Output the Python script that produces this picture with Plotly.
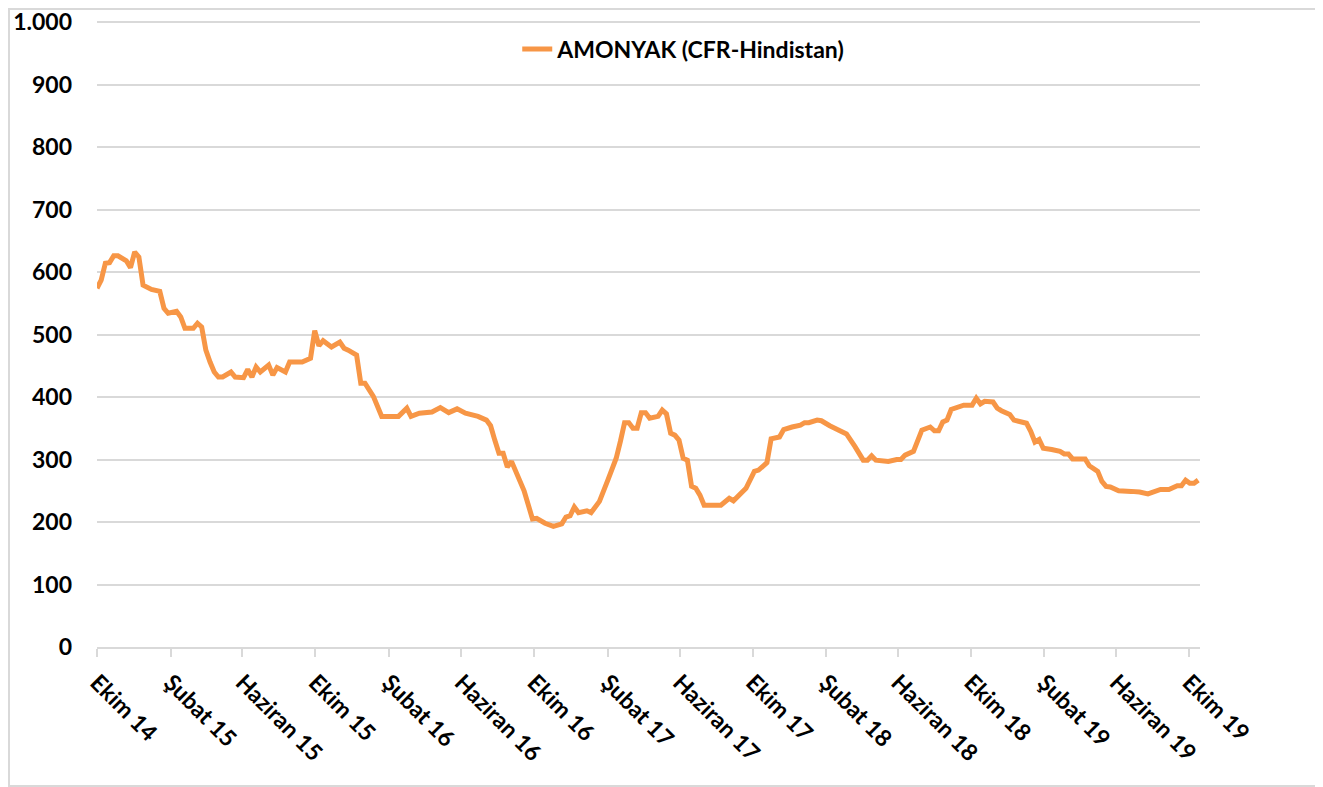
import pandas as pd
import plotly.graph_objects as go

# ---- data (weekly observations, week number counted from 1 Oct 2014) ----
start_date = "2014-10-01"
week_no = [
    0, 1, 2, 3, 4, 5, 7, 8, 9, 10, 11, 13, 15, 16, 17, 19, 20, 21, 23, 24,
    25, 26, 27, 28, 29, 30, 32, 33, 35, 36, 37, 38, 39, 41, 42, 43, 45, 46, 49, 51,
    52, 53, 54, 56, 58, 59, 60, 62, 63, 64, 66, 68, 72, 74, 75, 77, 80, 82, 84, 86,
    88, 91, 93, 94, 95, 96, 97, 98, 99, 101, 102, 104, 105, 107, 109, 111, 112, 113, 114, 115,
    117, 118, 120, 122, 124, 125, 126, 127, 128, 129, 130, 131, 132, 134, 135, 136, 137, 138, 139, 140,
    141, 142, 143, 144, 145, 149, 151, 152, 155, 157, 158, 160, 161, 163, 164, 166, 168, 169, 170, 172,
    173, 175, 177, 179, 181, 183, 184, 185, 186, 189, 191, 192, 193, 195, 197, 199, 200, 201, 202, 203,
    204, 206, 207, 209, 210, 211, 212, 214, 215, 216, 218, 219, 220, 222, 223, 224, 225, 226, 228, 230,
    231, 232, 233, 236, 237, 239, 240, 241, 242, 244, 247, 249, 251, 252, 254, 256, 258, 259, 260, 261,
    262, 263,
]
amonyak = [
    574, 587, 614, 615, 626, 626, 618, 607, 632, 624, 579, 572, 569, 542, 534, 537, 528, 510, 510, 518,
    512, 475, 456, 440, 432, 432, 440, 432, 431, 444, 432, 448, 440, 451, 435, 447, 440, 456, 456, 462,
    506, 482, 490, 480, 488, 478, 475, 467, 422, 422, 401, 369, 369, 382, 369, 374, 376, 383, 375, 381,
    374, 369, 363, 354, 331, 310, 310, 288, 297, 268, 250, 205, 206, 198, 193, 197, 208, 210, 224, 215,
    218, 215, 233, 267, 302, 329, 359, 359, 350, 350, 375, 375, 366, 369, 379, 373, 342, 339, 331, 302,
    299, 257, 254, 243, 227, 227, 238, 234, 254, 281, 283, 295, 333, 336, 348, 352, 355, 359, 359, 363,
    362, 354, 347, 341, 321, 299, 299, 306, 299, 297, 300, 300, 307, 313, 347, 352, 346, 346, 360, 363,
    380, 384, 387, 387, 398, 389, 393, 392, 382, 378, 372, 363, 362, 358, 345, 328, 332, 318, 316, 313,
    309, 309, 301, 301, 290, 281, 265, 257, 256, 250, 249, 248, 245, 247, 252, 252, 258, 258, 267, 262,
    262, 267,
]
series_name = "AMONYAK (CFR-Hindistan)"

tick_dates = [
    "2014-10-01", "2015-02-01", "2015-06-01", "2015-10-01", "2016-02-01", "2016-06-01",
    "2016-10-01", "2017-02-01", "2017-06-01", "2017-10-01", "2018-02-01", "2018-06-01",
    "2018-10-01", "2019-02-01", "2019-06-01", "2019-10-01",
]
tick_labels = [
    "Ekim 14", "Şubat 15", "Haziran 15", "Ekim 15", "Şubat 16", "Haziran 16",
    "Ekim 16", "Şubat 17", "Haziran 17", "Ekim 17", "Şubat 18", "Haziran 18",
    "Ekim 18", "Şubat 19", "Haziran 19", "Ekim 19",
]
y_ticks = [0, 100, 200, 300, 400, 500, 600, 700, 800, 900, 1000]

dates = pd.Timestamp(start_date) + pd.to_timedelta([w * 7 for w in week_no], unit="D")

FONT = "Lato"
FSIZE = 23
GRID = "#D9D9D9"

fig = go.Figure()
fig.add_trace(go.Scatter(
    x=dates, y=amonyak, mode="lines", name=series_name,
    line=dict(color="#F79646", width=5),
))

fig.update_layout(
    width=1315, height=779,
    margin=dict(l=89, r=123, t=9, b=140),
    paper_bgcolor="white", plot_bgcolor="white",
    separators=",.",
    font=dict(family=FONT, size=FSIZE, color="black", weight="bold"),
    showlegend=True,
    legend=dict(
        x=0.381, xanchor="left", y=0.949, yanchor="middle",
        bgcolor="rgba(0,0,0,0)", borderwidth=0,
        font=dict(family=FONT, size=FSIZE, color="black", weight="bold"),
    ),
    xaxis=dict(
        type="date",
        range=["2014-10-01", "2019-10-19"],
        tickmode="array", tickvals=tick_dates, ticktext=tick_labels,
        tickangle=45, automargin=False, ticklabeloverflow="allow",
        showgrid=False, zeroline=False,
        showline=True, linecolor=GRID, linewidth=2,
        ticks="outside", ticklen=8, tickwidth=2, tickcolor=GRID,
        ticklabelstandoff=3,
        tickfont=dict(family=FONT, size=FSIZE, color="black", weight="bold"),
    ),
    yaxis=dict(
        range=[0, 1008], automargin=False, ticklabeloverflow="allow",
        tickmode="array", tickvals=y_ticks,
        tickformat=",d",
        showgrid=True, gridcolor=GRID, gridwidth=2,
        zeroline=False, showline=False, ticks="",
        ticklabelstandoff=24,
        tickfont=dict(family=FONT, size=FSIZE, color="black", weight="bold"),
    ),
    shapes=[dict(
        type="rect", xref="paper", yref="paper",
        x0=-0.0798, x1=1.1058, y0=-0.2206, y1=1.0127,
        line=dict(color=GRID, width=2), fillcolor="rgba(0,0,0,0)", layer="below",
    )],
)

fig.write_html("out.html")
